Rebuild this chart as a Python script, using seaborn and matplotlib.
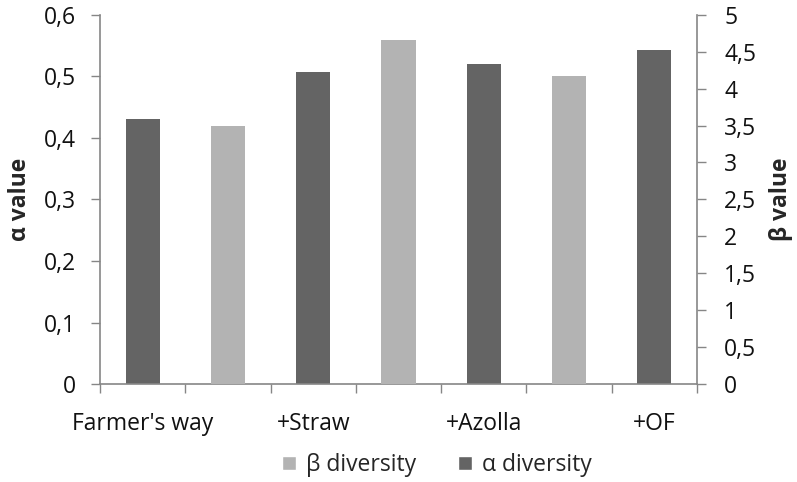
import matplotlib
matplotlib.use("Agg")
import matplotlib.pyplot as plt
from matplotlib.patches import Patch
from matplotlib.ticker import FixedLocator, FuncFormatter
import pandas as pd
import seaborn as sns

treatments = ["Farmer's way", "+Straw", "+Azolla", "+OF"]
alpha_diversity = [0.43, 0.507, 0.52, 0.543]
beta_diversity = [3.49, 4.65, 4.17]
alpha_ticks = [0, 0.1, 0.2, 0.3, 0.4, 0.5, 0.6]
beta_ticks = [0, 0.5, 1, 1.5, 2, 2.5, 3, 3.5, 4, 4.5, 5]

DARK = "#646464"
LIGHT = "#b3b3b3"
AXIS = "#868686"
FS = 16.5

sns.set_theme(style="white")
plt.rcParams["font.family"] = ["Open Sans", "DejaVu Sans"]

# seven slots along x: alpha bars on the even slots, beta bars in between
slots = [f"s{i}" for i in range(7)]
alpha_df = pd.DataFrame({"slot": slots[0::2], "value": alpha_diversity})
beta_df = pd.DataFrame({"slot": slots[1::2], "value": beta_diversity})

fig = plt.figure(figsize=(7.97, 4.82), dpi=100)
ax = fig.add_axes([0.1255, 0.2027, 0.749, 0.767])
ax2 = ax.twinx()

sns.barplot(data=alpha_df, x="slot", y="value", order=slots, color=DARK,
            width=0.4, saturation=1, linewidth=0, errorbar=None, ax=ax)
sns.barplot(data=beta_df, x="slot", y="value", order=slots, color=LIGHT,
            width=0.4, saturation=1, linewidth=0, errorbar=None, ax=ax2)

comma = FuncFormatter(lambda v, _: f"{v:g}".replace(".", ","))

# left axis (alpha)
ax.set_ylim(0, 0.6)
ax.yaxis.set_major_locator(FixedLocator(alpha_ticks))
ax.yaxis.set_major_formatter(comma)
ax.tick_params(axis="y", left=True, direction="out", length=6.5, width=1,
               color=AXIS, pad=11, labelsize=FS, labelcolor="#111111")
ax.set_ylabel("α value", fontsize=FS, fontweight="bold", labelpad=8)

# right axis (beta)
ax2.set_ylim(0, 5)
ax2.yaxis.set_major_locator(FixedLocator(beta_ticks))
ax2.yaxis.set_major_formatter(comma)
ax2.tick_params(axis="y", right=True, direction="out", length=6.5, width=1,
                color=AXIS, pad=13, labelsize=FS, labelcolor="#111111")
ax2.set_ylabel("β value", fontsize=FS, fontweight="bold", labelpad=9)

# x axis: treatment names under the alpha bars, tick marks between slots
ax.set_xlim(-0.5, 6.5)
ax.xaxis.set_major_locator(FixedLocator([0, 2, 4, 6]))
ax.set_xticklabels(treatments)
ax.xaxis.set_minor_locator(FixedLocator([i - 0.5 for i in range(8)]))
ax.tick_params(axis="x", which="major", bottom=True, length=0, pad=20,
               labelsize=FS, labelcolor="#111111")
ax.tick_params(axis="x", which="minor", bottom=True, direction="out",
               length=6.5, width=1, color=AXIS)
ax.set_xlabel("")

for a in (ax, ax2):
    for side in ("top", "right", "left", "bottom"):
        a.spines[side].set_visible(False)
ax.spines["left"].set_visible(True)
ax.spines["bottom"].set_visible(True)
ax2.spines["right"].set_visible(True)
for sp in (ax.spines["left"], ax.spines["bottom"], ax2.spines["right"]):
    sp.set_color(AXIS)
    sp.set_linewidth(1.2)

handles = [Patch(facecolor=LIGHT, label="β diversity"),
           Patch(facecolor=DARK, label="α diversity")]
fig.legend(handles=handles, loc="center", bbox_to_anchor=(437 / 797, 1 - 465 / 482),
           ncol=2, frameon=False, fontsize=FS, handlelength=0.6, handleheight=0.6,
           handletextpad=0.45, columnspacing=1.8)

fig.savefig("out.png", dpi=100)
